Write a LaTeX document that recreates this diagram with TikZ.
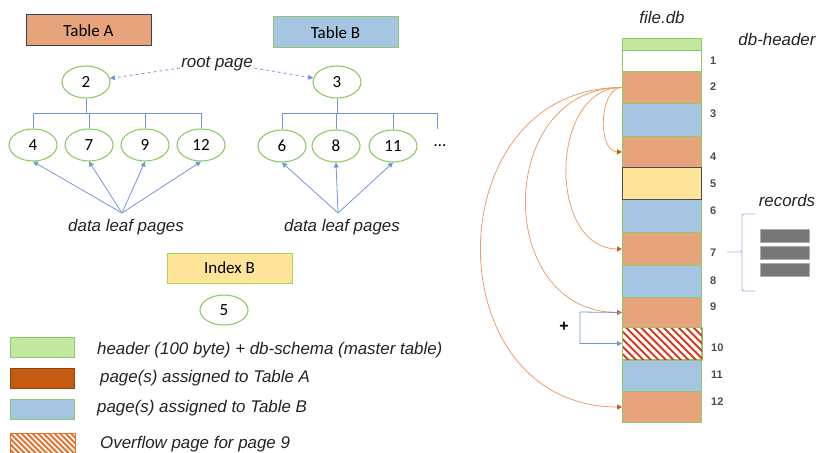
\documentclass[tikz,border=0pt]{standalone}
\usepackage{fontspec}
\setmainfont{Liberation Sans}
\newfontfamily\calfont{Carlito}
\usetikzlibrary{shapes.geometric,arrows.meta}

\definecolor{pgreen}{HTML}{8CCB68}
\definecolor{hgreen}{HTML}{C3E9A1}
\definecolor{porange}{HTML}{E7A47C}
\definecolor{dorange}{HTML}{C55A11}
\definecolor{pblue}{HTML}{A5C5E2}
\definecolor{pyellow}{HTML}{FFE59A}
\definecolor{lblue}{HTML}{7596D6}
\definecolor{bracecol}{HTML}{9DB3E3}
\definecolor{arcor}{HTML}{EE9D67}
\definecolor{tipor}{HTML}{CF5B14}
\definecolor{hatchred}{HTML}{D63A20}
\definecolor{hatchor}{HTML}{E47330}
\definecolor{recgray}{HTML}{777777}
\definecolor{inktext}{HTML}{222222}

\tikzset{
  pg/.style={ellipse, draw=pgreen, line width=1.1pt, fill=white,
    minimum width=48pt, minimum height=32pt, inner sep=0pt,
    font=\calfont\fontsize{17}{17}\selectfont},
  tbl/.style={rectangle, minimum width=125pt, minimum height=31pt,
    inner sep=0pt, line width=1pt, font=\calfont\fontsize{17}{17}\selectfont},
  tree/.style={draw=lblue, line width=0.9pt},
  ptr/.style={draw=lblue, line width=0.8pt, -{Triangle[length=5pt,width=5pt]}},
  rootptr/.style={ptr, dashed},
  italbl/.style={font=\fontsize{16.9}{19}\selectfont\itshape, text=inktext, inner sep=1pt},
  cell/.style={rectangle, draw=pgreen, line width=1pt, minimum width=79pt,
    inner sep=0pt, anchor=north west},
  rownum/.style={font=\fontsize{11}{12}\selectfont\bfseries, text=black!70, inner sep=0pt, anchor=west},
  arcptr/.style={draw=arcor, line width=0.8pt,
    -{Triangle[length=5pt,width=5pt,color=tipor]}},
  legbox/.style={rectangle, minimum width=64pt, minimum height=20pt,
    inner sep=0pt, anchor=north west, line width=1pt},
  legtext/.style={italbl, anchor=west},
  recbar/.style={rectangle, fill=recgray, draw=recgray!60, line width=0.6pt,
    minimum width=49pt, minimum height=13pt, inner sep=0pt},
}

\begin{document}
\begin{tikzpicture}[x=1pt,y=-1pt]
\useasboundingbox (0,0) rectangle (818,452);

% ---------- B-trees of the two tables ----------
\node[tbl, fill=porange, draw=black!75] (ta) at (88.5,30.5) {Table A};
\node[tbl, fill=pblue, draw=pgreen] (tb) at (335.5,32.5) {Table B};

\node[italbl] (root) at (217,64) {root page};
\node[pg] (n2) at (86,82) {2};
\node[pg] (n3) at (337,82) {3};

\node[pg] (n4)  at (33,145)  {4};
\node[pg] (n7)  at (89,145)  {7};
\node[pg] (n9)  at (145,145) {9};
\node[pg] (n12) at (201,145) {12};

\node[pg] (n6)  at (282,146) {6};
\node[pg] (n8)  at (336,146) {8};
\node[pg] (n11) at (393,146) {11};
\node[font=\calfont\fontsize{17}{17}\selectfont] (dots) at (440,146) {…};

\draw[rootptr] ([yshift=-4pt]root.west) -- (n2);
\draw[rootptr] ([yshift=-4pt]root.east) -- (n3);

\coordinate (busA) at (86,113);
\draw[tree] (n2.south) -- (busA);
\draw[tree] (n4.north |- busA) -- (n12.north |- busA);
\foreach \n in {n4,n7,n9,n12} \draw[tree] (\n.north |- busA) -- (\n.north);

\coordinate (busB) at (337,113);
\coordinate (more) at (437,129);
\draw[tree] (n3.south) -- (busB);
\draw[tree] (n6.north |- busB) -- (more |- busB) -- (more);
\foreach \n in {n6,n8,n11} \draw[tree] (\n.north |- busB) -- (\n.north);

\node[italbl] (dlA) at (126,227) {data leaf pages};
\node[italbl] (dlB) at (342,227) {data leaf pages};
\coordinate (srcA) at (122,213);
\coordinate (srcB) at (338,213);
\foreach \n in {n4,n7,n9,n12} \draw[ptr] (srcA) -- (\n.south);
\foreach \n in {n6,n8,n11} \draw[ptr] (srcB) -- (\n.south);

% ---------- index ----------
\node[tbl, minimum height=30pt, fill=pyellow, draw=pgreen!80!yellow] (ib) at (229.5,268) {Index B};
\node[pg, minimum height=30pt] (n5) at (224,310) {5};

% ---------- legend ----------
\node[legbox, fill=hgreen, draw=pgreen] (lg1) at (10,337) {};
\node[legbox, fill=dorange, draw=dorange!75!black] (lg2) at (10,368) {};
\node[legbox, fill=pblue, draw=pgreen] (lg3) at (10,399) {};
\node[legbox, fill=white] (lg4) at (10,433) {};
\begin{scope}
  \clip (lg4.north west) rectangle (lg4.south east);
  \foreach \x in {-14,-8.5,...,80}
    \draw[hatchor, line width=2pt] (\x,431) -- ++(26,26);
\end{scope}
\draw[hatchor, line width=1pt] (lg4.north west) rectangle (lg4.south east);

\node[legtext] (lt1) at (96,350) {header (100 byte) + db-schema (master table)};
\node[legtext] (lt2) at (99,378) {page(s) assigned to Table A};
\node[legtext] (lt3) at (96,408) {page(s) assigned to Table B};
\node[legtext] (lt4) at (99,444) {Overflow page for page 9};

% ---------- the database file, page by page ----------
\node[italbl] (fdb) at (662,17) {file.db};
\node[italbl] (dbh) at (777,39) {db-header};

\node[cell, minimum height=12pt, fill=hgreen] (hdr) at (622,38) {};
\node[cell, minimum height=21pt, fill=white]   (r1)  at (622,50)  {};
\node[cell, minimum height=32pt, fill=porange] (r2)  at (622,71)  {};
\node[cell, minimum height=33pt, fill=pblue]   (r3)  at (622,103) {};
\node[cell, minimum height=31pt, fill=porange] (r4)  at (622,136) {};
\node[cell, minimum height=33pt, fill=pblue]   (r6)  at (622,199) {};
\node[cell, minimum height=32pt, fill=pyellow, draw=black!70] (r5) at (622,167) {};
\node[cell, minimum height=33pt, fill=porange] (r7)  at (622,232) {};
\node[cell, minimum height=32pt, fill=pblue]   (r8)  at (622,265) {};
\node[cell, minimum height=30pt, fill=porange] (r9)  at (622,297) {};
\node[cell, minimum height=32pt, fill=white]   (r10) at (622,327) {};
\node[cell, minimum height=32pt, fill=pblue]   (r11) at (622,359) {};
\node[cell, minimum height=31pt, fill=porange] (r12) at (622,391) {};

% red/white stripes of the overflow page
\begin{scope}
  \clip (r10.north west) rectangle (r10.south east);
  \foreach \x in {586,593.5,...,712}
    \draw[hatchred, line width=2.1pt] (\x,325) -- ++(38,38);
\end{scope}
\draw[pgreen, line width=1pt] (r10.north west) rectangle (r10.south east);

\foreach \t/\x/\y in {1/710/61, 2/710/87, 3/710/114, 4/710/157, 5/710/184,
    6/710/211, 7/710/253, 8/710/281, 9/710/307, 10/711/348, 11/711/375, 12/711/402}
  \node[rownum] (l\t) at (\x,\y) {\t};

% pointers from the root page 2 to its leaf pages
\draw[arcptr] (r2.west) .. controls (599,87) and (597,151.5) .. (r4.west);
\draw[arcptr] (r2.west) .. controls (549,87) and (547,248.5) .. (r7.west);
\draw[arcptr] (r2.west) .. controls (495,87) and (493,312) .. (r9.west);
\draw[arcptr] (r2.west) .. controls (435,87) and (433,406.5) .. (r12.west);

% overflow chain 9 -> 10
\coordinate (ov) at (580,312);
\draw[ptr] (r9.west) -- (ov) |- (r10.west);
\node[font=\fontsize{16}{16}\selectfont\bfseries] (plus) at (564,327) {+};

% records inside page 7
\node[italbl] (rec) at (787,200) {records};
\coordinate (bt) at (755,214);
\coordinate (bc) at (742,252);
\coordinate (bm) at (727,252);
\coordinate (bb) at (755,291);
\draw[bracecol, line width=0.9pt, rounded corners=2pt] (bt) -| (bc) -- (bm);
\draw[bracecol, line width=0.9pt, rounded corners=2pt] (bc) |- (bb);
\node[recbar] (rb1) at (784.5,235.5) {};
\node[recbar] (rb2) at (784.5,252.5) {};
\node[recbar] (rb3) at (784.5,270) {};
\end{tikzpicture}
\end{document}
